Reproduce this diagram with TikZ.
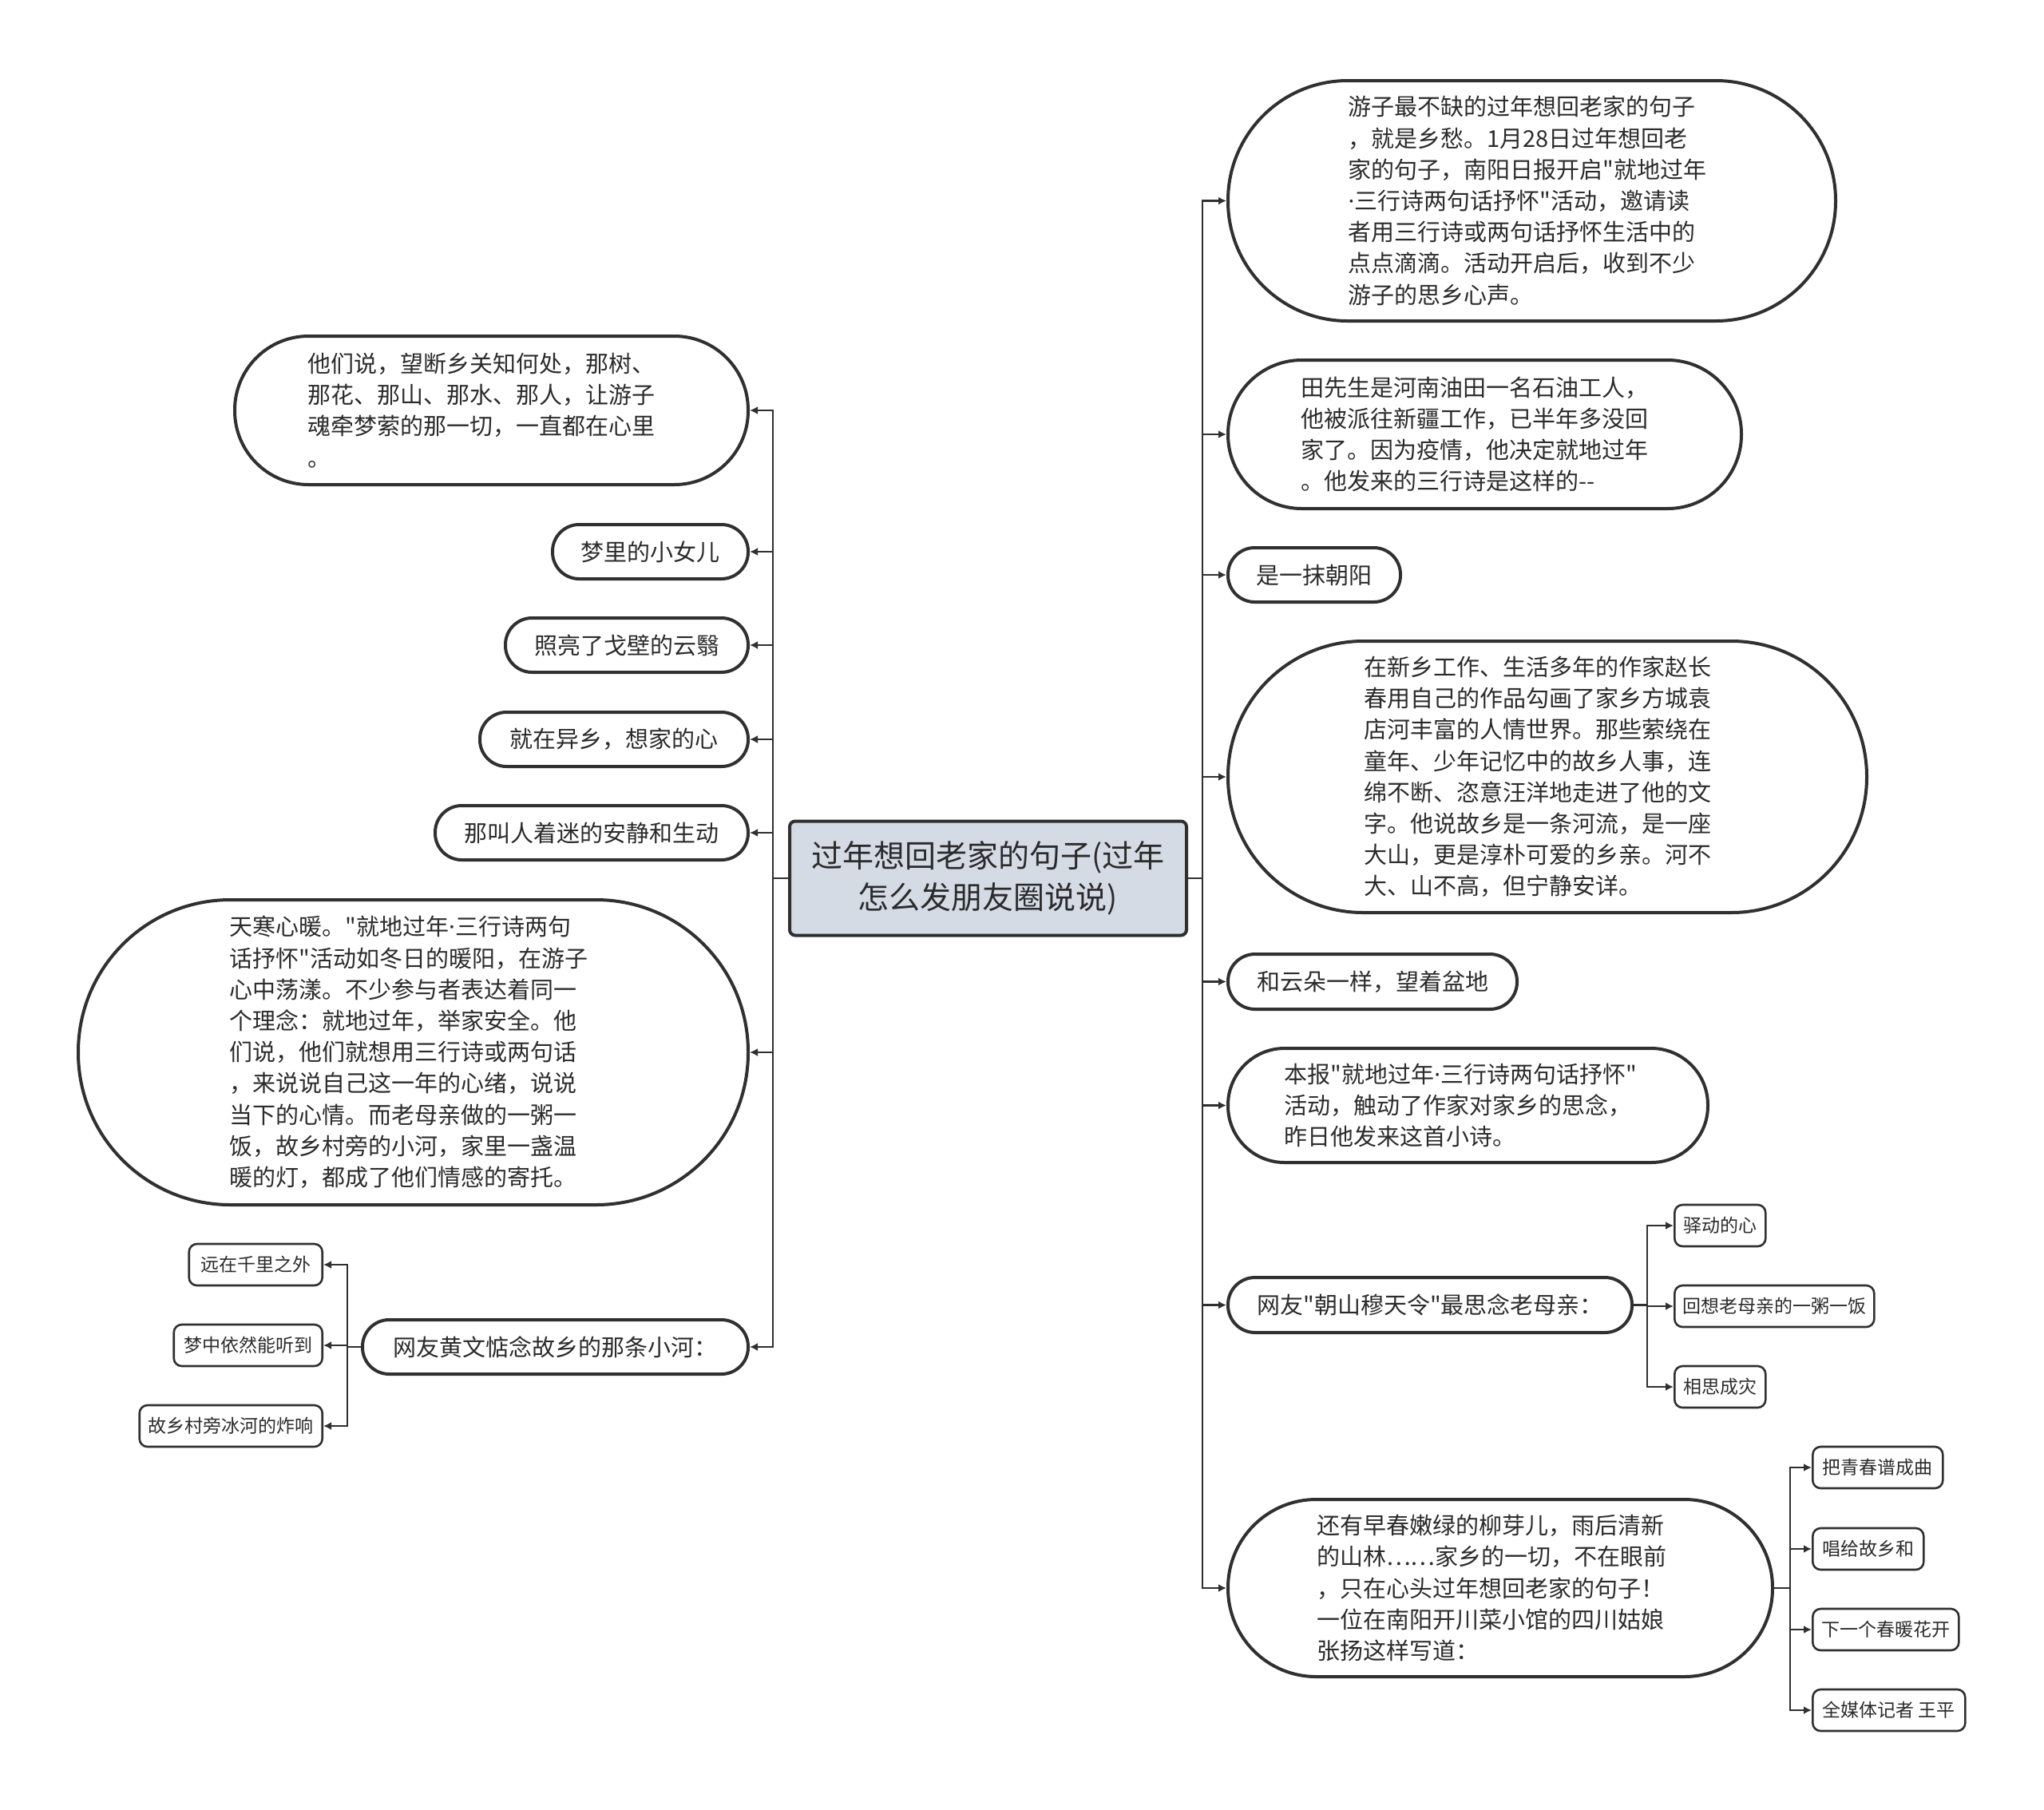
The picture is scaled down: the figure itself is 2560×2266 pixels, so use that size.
\documentclass[tikz,border=0pt]{standalone}
\usepackage{fontspec}
\setmainfont[Ligatures=TeXOff]{Noto Sans CJK SC}
\newfontfamily\latinfont[Ligatures=TeXOff]{Noto Sans}
\newcommand{\mdot}{{\latinfont ·}}
\usetikzlibrary{arrows.meta}

\definecolor{linec}{HTML}{303030}
\definecolor{textc}{HTML}{2B2B2B}
\definecolor{rootfill}{HTML}{D5DBE5}

\tikzset{
  rootbox/.style={draw=linec, line width=2pt, fill=rootfill, text=textc,
    rounded corners=3.5pt, inner sep=0pt, minimum width=248.5pt, minimum height=71.5pt,
    align=center, font=\fontsize{19.5pt}{26pt}\selectfont},
  pill/.style 2 args={draw=linec, line width=2pt, text=textc, inner sep=0pt,
    minimum width=#1*0.5pt, minimum height=#2*0.5pt, rounded corners=#2*0.25pt-0.3pt,
    font=\fontsize{14.5pt}{19.6pt}\selectfont},
  para/.style={align=left, text width=230pt},
  leaf/.style={draw=linec, line width=1.3pt, text=textc, inner sep=0pt,
    minimum width=#1*0.5pt, minimum height=26pt, rounded corners=5pt,
    font=\fontsize{11.5pt}{14pt}\selectfont},
  link/.style={draw=linec, line width=1.3pt, -{Latex[length=5pt,width=5pt]}},
}

\begin{document}
\begin{tikzpicture}[x=0.5pt,y=-0.5pt]
\useasboundingbox (0,0) rectangle (2560,2266);

% centre
\node[rootbox] (root) at (1237.5,1100) {过年想回老家的句子(过年\\怎么发朋友圈说说)};

% right side
\node[pill={761}{301}, para] (r1) at (1918.5,251.5) {游子最不缺的过年想回老家的句子\\，就是乡愁。1月28日过年想回老\\家的句子，南阳日报开启"就地过年\\\mdot 三行诗两句话抒怀"活动，邀请读\\者用三行诗或两句话抒怀生活中的\\点点滴滴。活动开启后，收到不少\\游子的思乡心声。};
\node[pill={643}{186}, para] (r2) at (1859.5,544) {田先生是河南油田一名石油工人，\\他被派往新疆工作，已半年多没回\\家了。因为疫情，他决定就地过年\\。他发来的三行诗是这样的--};
\node[pill={216}{68}] (r3) at (1646,720) {是一抹朝阳};
\node[pill={800}{340}, para] (r4) at (1938,973) {在新乡工作、生活多年的作家赵长\\春用自己的作品勾画了家乡方城袁\\店河丰富的人情世界。那些萦绕在\\童年、少年记忆中的故乡人事，连\\绵不断、恣意汪洋地走进了他的文\\字。他说故乡是一条河流，是一座\\大山，更是淳朴可爱的乡亲。河不\\大、山不高，但宁静安详。};
\node[pill={362}{69}] (r5) at (1719,1229.5) {和云朵一样，望着盆地};
\node[pill={601}{143}, para] (r6) at (1838.5,1384.5) {本报"就地过年\mdot 三行诗两句话抒怀"\\活动，触动了作家对家乡的思念，\\昨日他发来这首小诗。};
\node[pill={506}{69}] (r7) at (1791,1634.5) {网友"朝山穆天令"最思念老母亲：};
\node[pill={682}{222}, para] (r8) at (1879,1989) {还有早春嫩绿的柳芽儿，雨后清新\\的山林……家乡的一切，不在眼前\\，只在心头过年想回老家的句子！\\一位在南阳开川菜小馆的四川姑娘\\张扬这样写道：};

\node[leaf=114, anchor=west] (r7a) at (2096,1535) {驿动的心};
\node[leaf=250, anchor=west] (r7b) at (2096,1636) {回想老母亲的一粥一饭};
\node[leaf=114, anchor=west] (r7c) at (2096,1737) {相思成灾};

\node[leaf=163, anchor=west] (r8a) at (2269,1838) {把青春谱成曲};
\node[leaf=139, anchor=west] (r8b) at (2269,1940) {唱给故乡和};
\node[leaf=183, anchor=west] (r8c) at (2269,2041) {下一个春暖花开};
\node[leaf=191, anchor=west] (r8d) at (2269,2142) {全媒体记者 王平};

% left side
\node[pill={643}{186}, para] (l1) at (615.5,514) {他们说，望断乡关知何处，那树、\\那花、那山、那水、那人，让游子\\魂牵梦萦的那一切，一直都在心里\\。};
\node[pill={245}{68}] (l2) at (814.5,691) {梦里的小女儿};
\node[pill={304}{68}] (l3) at (785,808) {照亮了戈壁的云翳};
\node[pill={336}{68}] (l4) at (769,926) {就在异乡，想家的心};
\node[pill={392}{68}] (l5) at (741,1043) {那叫人着迷的安静和生动};
\node[pill={839}{382}, para] (l6) at (517.5,1318) {天寒心暖。"就地过年\mdot 三行诗两句\\话抒怀"活动如冬日的暖阳，在游子\\心中荡漾。不少参与者表达着同一\\个理念：就地过年，举家安全。他\\们说，他们就想用三行诗或两句话\\，来说说自己这一年的心绪，说说\\当下的心情。而老母亲做的一粥一\\饭，故乡村旁的小河，家里一盏温\\暖的灯，都成了他们情感的寄托。};
\node[pill={483}{68}] (l7) at (695.5,1687) {网友黄文惦念故乡的那条小河：};

\node[leaf=167, anchor=east] (l7a) at (405,1584) {远在千里之外};
\node[leaf=186, anchor=east] (l7b) at (405,1685) {梦中依然能听到};
\node[leaf=229, anchor=east] (l7c) at (405,1786) {故乡村旁冰河的炸响};

% links
\foreach \n in {r1,r2,r3,r4,r5,r6,r7,r8}
  \draw[link] (root.east) -- ++(18,0) |- (\n.west);
\foreach \n in {l1,l2,l3,l4,l5,l6,l7}
  \draw[link] (root.west) -- ++(-19,0) |- (\n.east);
\foreach \n in {r7a,r7b,r7c}
  \draw[link] (r7.east) -- ++(17,0) |- (\n.west);
\foreach \n in {r8a,r8b,r8c,r8d}
  \draw[link] (r8.east) -- ++(20,0) |- (\n.west);
\foreach \n in {l7a,l7b,l7c}
  \draw[link] (l7.west) -- ++(-17,0) |- (\n.east);

\end{tikzpicture}
\end{document}
